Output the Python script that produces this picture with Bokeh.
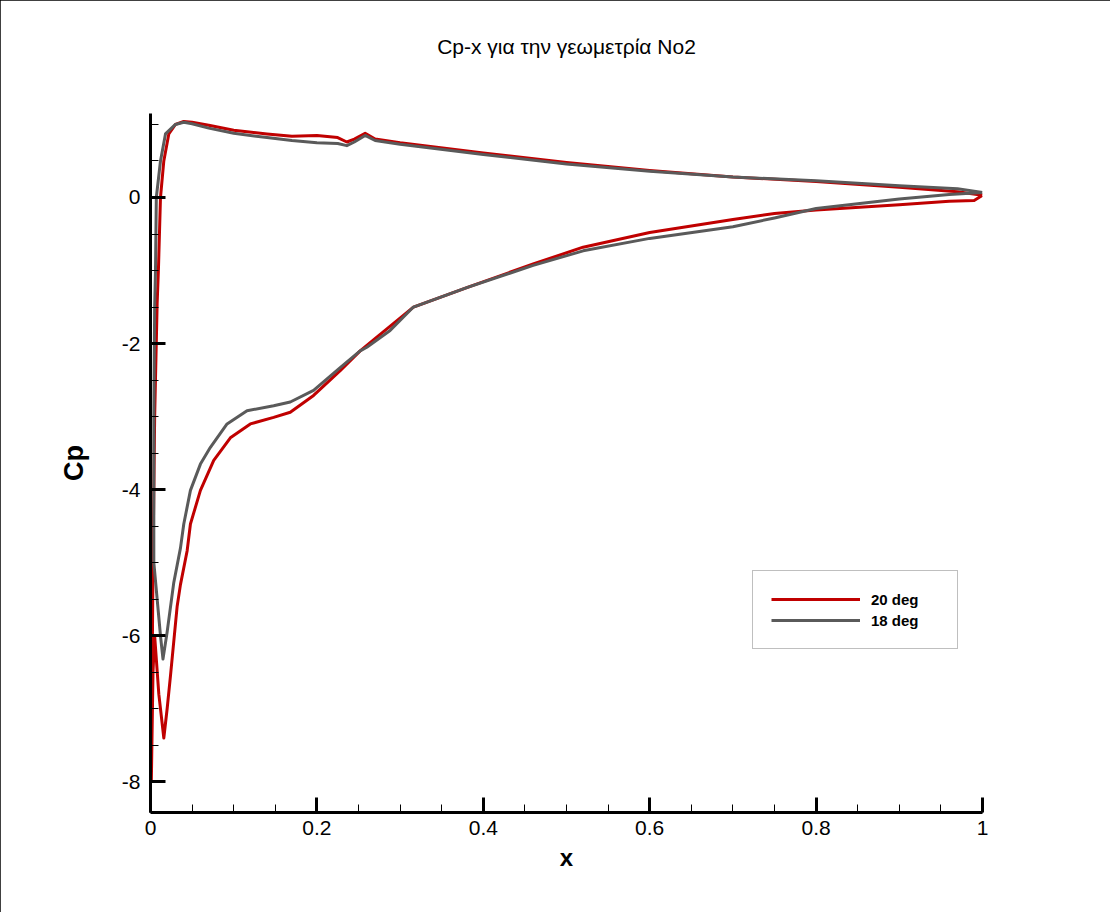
from bokeh.plotting import figure
from bokeh.models import (SingleIntervalTicker, Legend, LegendItem, Range1d,
                          CustomJSTickFormatter, Title)
from bokeh.embed import file_html
from bokeh.resources import INLINE

# ---- data ----
x_20deg = [1.000, 0.97, 0.90, 0.80, 0.70, 0.60, 0.50, 0.40, 0.30, 0.27, 0.258, 0.245,
           0.236, 0.225, 0.20, 0.17, 0.14, 0.10, 0.07, 0.05, 0.04, 0.03, 0.022, 0.016,
           0.012, 0.0096, 0.008, 0.005, 0.003, 0.001, 0.003, 0.005, 0.010, 0.016,
           0.020, 0.024, 0.032, 0.036, 0.044, 0.048, 0.060, 0.076, 0.096, 0.120,
           0.148, 0.168, 0.196, 0.228, 0.252, 0.268, 0.316, 0.381, 0.46, 0.52, 0.60,
           0.70, 0.75, 0.80, 0.90, 0.96, 0.99, 1.000]
cp_20deg = [0.03, 0.08, 0.14, 0.22, 0.28, 0.37, 0.48, 0.61, 0.75, 0.80, 0.88, 0.80,
            0.76, 0.82, 0.85, 0.84, 0.87, 0.92, 0.99, 1.03, 1.04, 1.00, 0.87, 0.50,
            0.0, -0.96, -1.45, -3.0, -5.0, -8.0, -6.5, -6.0, -6.8, -7.40,
            -7.0, -6.55, -5.6, -5.3, -4.84, -4.47, -4.01, -3.60, -3.29, -3.10,
            -3.01, -2.94, -2.71, -2.37, -2.10, -1.95, -1.50, -1.23, -0.91, -0.68, -0.48,
            -0.30, -0.22, -0.17, -0.10, -0.05, -0.04, 0.03]

x_18deg = [1.000, 0.97, 0.90, 0.80, 0.70, 0.60, 0.50, 0.40, 0.30, 0.27, 0.258, 0.245,
           0.236, 0.225, 0.20, 0.17, 0.14, 0.10, 0.07, 0.05, 0.04, 0.03, 0.018, 0.012,
           0.007, 0.006, 0.005, 0.004, 0.004, 0.008, 0.012, 0.015, 0.020, 0.028,
           0.036, 0.040, 0.048, 0.060, 0.072, 0.092, 0.116, 0.148, 0.168, 0.196,
           0.228, 0.252, 0.260, 0.288, 0.316, 0.381, 0.46, 0.52, 0.60, 0.70, 0.75,
           0.80, 0.90, 0.96, 1.000]
cp_18deg = [0.07, 0.12, 0.16, 0.23, 0.28, 0.36, 0.46, 0.59, 0.73, 0.78, 0.85, 0.76,
            0.71, 0.74, 0.75, 0.78, 0.82, 0.88, 0.95, 1.01, 1.03, 1.00, 0.87, 0.50,
            0.0, -1.0, -1.5, -3.0, -5.0, -5.5, -6.0, -6.32, -5.95, -5.27,
            -4.80, -4.47, -4.01, -3.65, -3.42, -3.10, -2.92, -2.85, -2.80, -2.64,
            -2.33, -2.10, -2.05, -1.82, -1.50, -1.23, -0.93, -0.73, -0.56, -0.40, -0.28,
            -0.15, -0.02, 0.04, 0.07]

series_labels = ["20 deg", "18 deg"]
title_text = "Cp-x για την γεωμετρία Νο2"
x_label = "x"
y_label = "Cp"

RED = "#c00000"
GRAY = "#5a5a5a"
FONT = "Liberation Sans"

p = figure(width=1110, height=912, output_backend="svg", toolbar_location=None,
           x_range=Range1d(0, 1), y_range=Range1d(-8.42, 1.15),
           min_border_left=150, min_border_right=128, min_border_top=113,
           min_border_bottom=100)
p.background_fill_color = "white"
p.border_fill_color = "white"
p.outline_line_color = None
p.xgrid.visible = False
p.ygrid.visible = False
p.styles = {"outline": "1px solid black", "outline-offset": "-1px"}

# spacer panel between the frame and the title, then the title itself
p.add_layout(Title(text=" ", standoff=40, text_font_size="12px"), "above")
p.add_layout(Title(text=title_text, align="center", text_font=FONT,
                   text_font_size="21px", text_font_style="normal",
                   text_color="black", standoff=0), "above")

r20 = p.line(x_20deg, cp_20deg, line_color=RED, line_width=3, line_join="round")
r18 = p.line(x_18deg, cp_18deg, line_color=GRAY, line_width=3, line_join="round")

for ax in (p.xaxis[0], p.yaxis[0]):
    ax.axis_line_width = 3
    ax.axis_line_color = "black"
    ax.major_tick_in = 15
    ax.major_tick_out = 0
    ax.major_tick_line_width = 3
    ax.minor_tick_in = 8
    ax.minor_tick_out = 0
    ax.minor_tick_line_width = 1
    ax.major_label_text_font = FONT
    ax.major_label_text_font_size = "21px"
    ax.major_label_text_color = "black"
    ax.axis_label_text_font = FONT
    ax.axis_label_text_font_style = "bold"
    ax.axis_label_text_color = "black"

p.xaxis[0].ticker = SingleIntervalTicker(interval=0.2, num_minor_ticks=4)
p.yaxis[0].ticker = SingleIntervalTicker(interval=2, num_minor_ticks=4)
p.xaxis[0].formatter = CustomJSTickFormatter(
    code="var s = tick.toFixed(1); return s.replace(/\\.0$/, '');")
p.yaxis[0].formatter = CustomJSTickFormatter(code="return tick.toFixed(0);")
p.xaxis[0].major_label_standoff = 8
p.yaxis[0].major_label_standoff = 10
p.xaxis[0].axis_label = x_label
p.yaxis[0].axis_label = y_label
p.xaxis[0].axis_label_text_font_size = "24px"
p.yaxis[0].axis_label_text_font_size = "27px"
p.xaxis[0].axis_label_standoff = 6
p.yaxis[0].axis_label_standoff = 30

legend = Legend(items=[LegendItem(label=series_labels[0], renderers=[r20]),
                       LegendItem(label=series_labels[1], renderers=[r18])],
                location=(602, 163), orientation="vertical")
legend.border_line_color = "#7f7f7f"
legend.border_line_width = 1
legend.background_fill_color = "white"
legend.background_fill_alpha = 1
legend.padding = 18
legend.margin = 0
legend.spacing = 1
legend.glyph_width = 89
legend.glyph_height = 20
legend.label_height = 20
legend.label_width = 68
legend.label_standoff = 11
legend.label_text_font = FONT
legend.label_text_font_style = "bold"
legend.label_text_font_size = "15px"
legend.label_text_color = "black"
p.add_layout(legend, "center")

open("out.html", "w").write(file_html(p, INLINE))
